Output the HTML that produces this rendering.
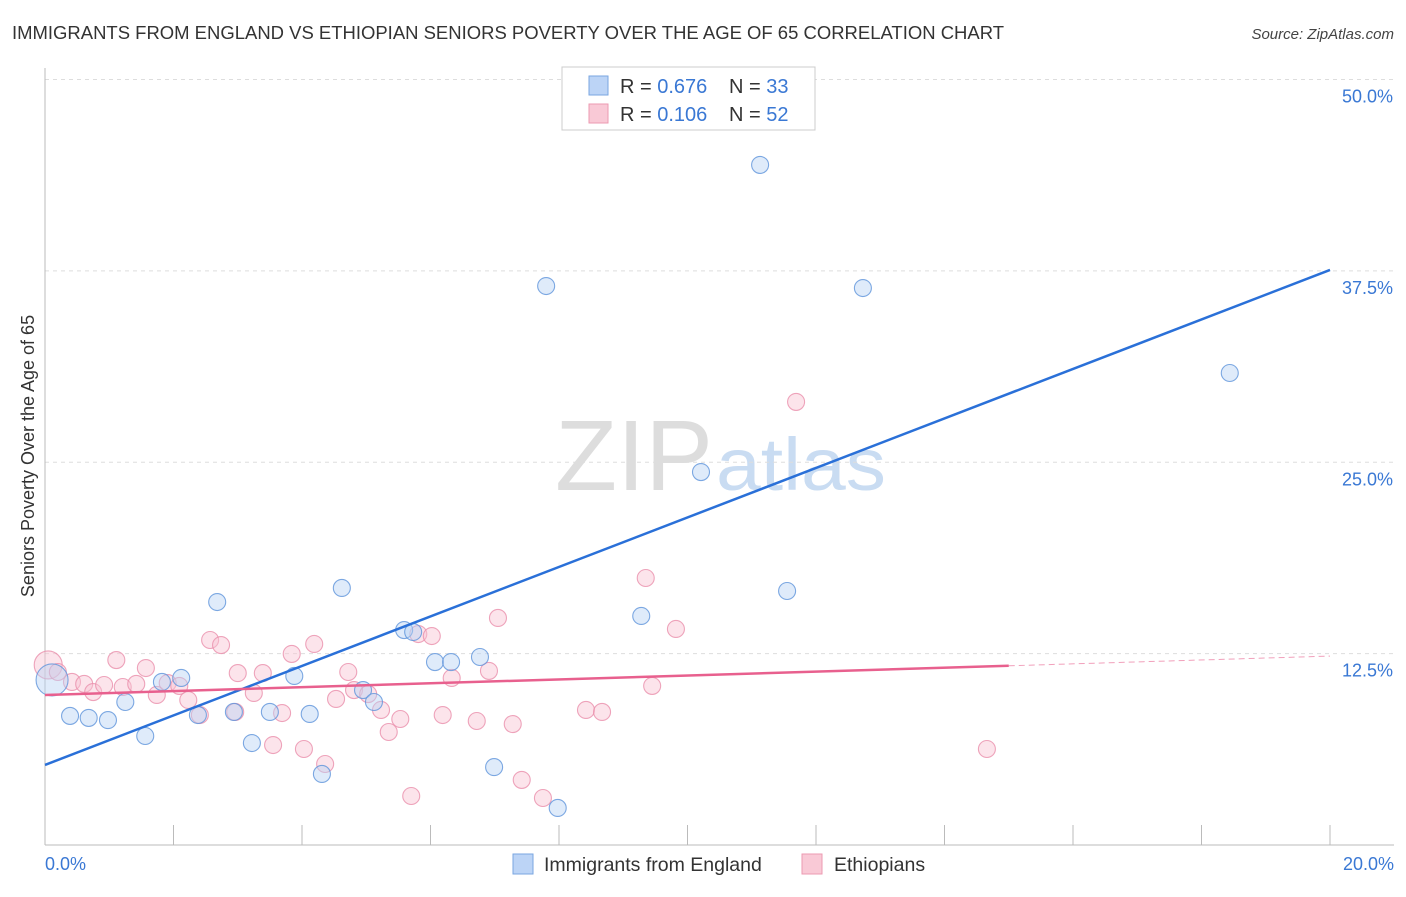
<!DOCTYPE html>
<html><head><meta charset="utf-8"><style>
body{margin:0;background:#fff;font-family:"Liberation Sans",sans-serif;}
svg text{font-family:"Liberation Sans",sans-serif;}
</style></head><body>
<svg id="chart" width="1406" height="892">
<text x="12" y="39" font-size="18.2" fill="#333" textLength="992" lengthAdjust="spacingAndGlyphs">IMMIGRANTS FROM ENGLAND VS ETHIOPIAN SENIORS POVERTY OVER THE AGE OF 65 CORRELATION CHART</text>
<text x="1394" y="39" font-size="15" fill="#444" font-style="italic" text-anchor="end">Source: ZipAtlas.com</text>
<text x="555" y="490" font-size="100" fill="#ddd" textLength="158" lengthAdjust="spacingAndGlyphs" font-family="Liberation Serif">ZIP</text>
<text x="716" y="490" font-size="74" fill="#c9dcf2" textLength="170" lengthAdjust="spacingAndGlyphs">atlas</text>
<g id="grid"></g>
<g id="axes"></g>
<g id="marks"></g>
<text transform="translate(34,456) rotate(-90)" font-size="18" fill="#333" text-anchor="middle">Seniors Poverty Over the Age of 65</text>
<g>
<rect x="562" y="67" width="253" height="63" fill="#fff" stroke="#ccc"/>
<rect x="589" y="76" width="19" height="19" fill="#bcd4f6" stroke="#7aa6e0"/>
<rect x="589" y="104" width="19" height="19" fill="#f9c9d6" stroke="#ec9ab1"/>
<text x="620" y="93" font-size="20" fill="#333">R = <tspan fill="#3a78d4">0.676</tspan></text>
<text x="729" y="93" font-size="20" fill="#333">N = <tspan fill="#3a78d4">33</tspan></text>
<text x="620" y="121" font-size="20" fill="#333">R = <tspan fill="#3a78d4">0.106</tspan></text>
<text x="729" y="121" font-size="20" fill="#333">N = <tspan fill="#3a78d4">52</tspan></text>
</g>
<g>
<rect x="513" y="854" width="20" height="20" fill="#bcd4f6" stroke="#7aa6e0"/>
<text x="544" y="871" font-size="19.5" fill="#333">Immigrants from England</text>
<rect x="802" y="854" width="20" height="20" fill="#f9c9d6" stroke="#ec9ab1"/>
<text x="834" y="871" font-size="19.5" fill="#333">Ethiopians</text>
</g>
</svg>
<script>
const yTicks=[12.5,25,37.5,50];
const yTickLabels=["12.5%","25.0%","37.5%","50.0%"];
const xTickLabels=["0.0%","20.0%"];
const blueX=[0.11,0.39,0.68,0.98,1.25,1.56,1.82,2.12,2.38,2.68,2.94,3.22,3.50,3.88,4.12,4.31,4.62,4.95,5.12,5.59,5.73,6.07,6.32,6.77,6.99,7.80,7.98,9.28,10.21,11.13,11.55,12.73,18.44];
const blueY=[10.78,8.43,8.30,8.16,9.34,7.12,10.65,10.91,8.49,15.87,8.69,6.66,8.69,11.04,8.56,4.64,16.79,10.12,9.34,14.04,13.91,11.95,11.95,12.28,5.09,36.51,2.42,14.96,24.36,44.42,16.59,36.38,30.83];
const pinkX=[0.05,0.20,0.42,0.61,0.75,0.92,1.11,1.21,1.42,1.57,1.74,1.91,2.09,2.23,2.41,2.57,2.74,2.96,3.00,3.25,3.39,3.55,3.69,3.84,4.03,4.19,4.36,4.53,4.72,4.81,5.03,5.23,5.35,5.53,5.70,5.81,6.02,6.19,6.33,6.72,6.91,7.05,7.28,7.42,7.75,8.42,8.67,9.35,9.45,9.82,11.69,14.66];
const pinkY=[11.76,11.30,10.65,10.52,9.99,10.45,12.08,10.32,10.52,11.56,9.80,10.58,10.39,9.47,8.49,13.39,13.06,8.69,11.23,9.93,11.23,6.53,8.62,12.48,6.27,13.13,5.29,9.54,11.30,10.12,9.86,8.82,7.38,8.23,3.20,13.78,13.65,8.49,10.91,8.10,11.37,14.83,7.90,4.25,3.07,8.82,8.69,17.44,10.39,14.11,28.94,6.27];
const blueTrend=[5.23,37.56];
const pinkTrend=[9.80,12.34];
const pinkSolidEnd=15.0;

const NS="http://www.w3.org/2000/svg";
const X=v=>45+v/20*1285;
const Y=v=>845-v*15.31;
function mk(tag,attrs,parent){const e=document.createElementNS(NS,tag);for(const k in attrs)e.setAttribute(k,attrs[k]);parent.appendChild(e);return e;}
const grid=document.getElementById('grid'),axes=document.getElementById('axes'),marks=document.getElementById('marks');
yTicks.forEach((t,i)=>{
  const l=mk('line',{x1:45,x2:1394,y1:Y(t),y2:Y(t),stroke:'#ddd','stroke-dasharray':'4,4'},grid);
  
  
  const tx=mk('text',{x:1393,y:Y(t)+23,'font-size':18,fill:'#3a78d4','text-anchor':'end'},axes);
  tx.textContent=yTickLabels[i];
  
  
});
const ax=mk('line',{x1:45,x2:45,y1:68,y2:845,stroke:'#bbb'},axes);


const bx=mk('line',{x1:45,x2:1394,y1:845,y2:845,stroke:'#bbb'},axes);


for(let i=1;i<=10;i++){
  const t=mk('line',{x1:X(i*2),x2:X(i*2),y1:825,y2:845,stroke:'#bbb'},axes);
  
  
}
[[0,'start',45],[20,'end',1394]].forEach((d,i)=>{
  const t=mk('text',{x:d[2],y:870,'font-size':18,fill:'#3a78d4','text-anchor':d[1]},axes);
  t.textContent=xTickLabels[i];
  
  
});
function dots(xs,ys,fill,stroke,name,big){
  xs.forEach((x,i)=>{
    const c=mk('circle',{cx:X(x),cy:Y(ys[i]),r:(i===0?big:8.5),fill:fill,'fill-opacity':0.45,stroke:stroke,'stroke-width':1.1,'stroke-opacity':0.8},marks);
    
    
  });
}
dots(pinkX,pinkY,'#f9c4d3','#ea8fab','ethiopians-point',14);
dots(blueX,blueY,'#b9d2f3','#5e93db','england-point',16);
const bl=mk('line',{x1:X(0),y1:Y(blueTrend[0]),x2:X(20),y2:Y(blueTrend[1]),stroke:'#2a70d8','stroke-width':2.5},marks);


const pAt=x=>pinkTrend[0]+(pinkTrend[1]-pinkTrend[0])*x/20;
const pl=mk('line',{x1:X(0),y1:Y(pAt(0)),x2:X(pinkSolidEnd),y2:Y(pAt(pinkSolidEnd)),stroke:'#e8608e','stroke-width':2.5},marks);


const pd=mk('line',{x1:X(pinkSolidEnd),y1:Y(pAt(pinkSolidEnd)),x2:X(20),y2:Y(pAt(20)),stroke:'#e8608e','stroke-width':1,'stroke-dasharray':'6,4','stroke-opacity':0.6},marks);


</script>
</body></html>
